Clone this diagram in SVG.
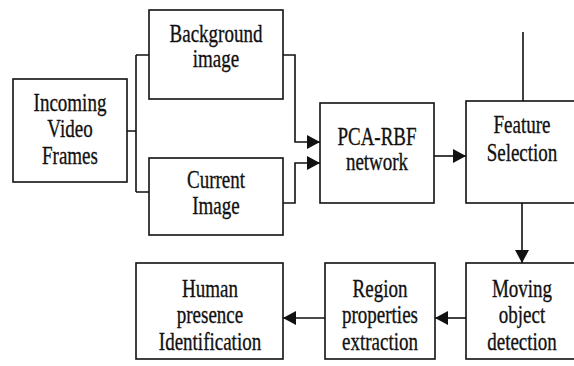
<svg xmlns="http://www.w3.org/2000/svg" width="574" height="366" viewBox="0 0 574 366">
<defs>
<style>
.box{fill:#fff;stroke:#111;stroke-width:1.6}
.ln{fill:none;stroke:#111;stroke-width:1.6}
.t{font-family:"Liberation Serif","Times New Roman",serif;font-size:19px;fill:#111;stroke:#111;stroke-width:0.25;text-anchor:middle}
</style>
<marker id="ah" markerUnits="userSpaceOnUse" markerWidth="14" markerHeight="14" refX="13" refY="7" orient="auto" viewBox="0 0 14 14">
<path d="M0,0 L13,7 L0,14 z" fill="#111"/>
</marker>
</defs>
<rect width="574" height="366" fill="#fff"/>
<g id="connectors">
<path class="ln" d="M127,131 H136 M136,55 V192 M136,55 H149 M136,192 H149"/>
<path class="ln" d="M283,55 H295 V142 H320" marker-end="url(#ah)"/>
<path class="ln" d="M283,203 H295 V163 H320" marker-end="url(#ah)"/>
<path class="ln" d="M434,156 H466" marker-end="url(#ah)"/>
<path class="ln" d="M523,32 V101"/>
<path class="ln" d="M522,203 V263" marker-end="url(#ah)"/>
<path class="ln" d="M466,318 H435" marker-end="url(#ah)"/>
<path class="ln" d="M325,318 H283" marker-end="url(#ah)"/>
</g>
<g id="incoming">
<rect class="box" x="13" y="79" width="114" height="103"/>
<text class="t" transform="translate(70,111) scale(1,1.27)"><tspan x="0" y="0">Incoming</tspan><tspan x="0" y="20.5">Video</tspan><tspan x="0" y="41.5">Frames</tspan></text>
</g>
<g id="background">
<rect class="box" x="149" y="10" width="134" height="89"/>
<text class="t" transform="translate(216,42) scale(1,1.27)"><tspan x="0" y="0">Background</tspan><tspan x="0" y="19.5">image</tspan></text>
</g>
<g id="current">
<rect class="box" x="149" y="158" width="134" height="77"/>
<text class="t" transform="translate(216,188) scale(1,1.27)"><tspan x="0" y="0">Current</tspan><tspan x="0" y="20.5">Image</tspan></text>
</g>
<g id="pca">
<rect class="box" x="320" y="103" width="114" height="100"/>
<text class="t" transform="translate(377,145) scale(1,1.27)"><tspan x="0" y="0">PCA-RBF</tspan><tspan x="0" y="19.7">network</tspan></text>
</g>
<g id="feature">
<rect class="box" x="466" y="101" width="114" height="102"/>
<text class="t" transform="translate(522,133) scale(1,1.27)"><tspan x="0" y="0">Feature</tspan><tspan x="0" y="22">Selection</tspan></text>
</g>
<g id="moving">
<rect class="box" x="466" y="263" width="114" height="96"/>
<text class="t" transform="translate(522,297) scale(1,1.27)"><tspan x="0" y="0">Moving</tspan><tspan x="0" y="20.5">object</tspan><tspan x="0" y="41.5">detection</tspan></text>
</g>
<g id="region">
<rect class="box" x="325" y="263" width="110" height="96"/>
<text class="t" transform="translate(380,297) scale(1,1.27)"><tspan x="0" y="0">Region</tspan><tspan x="0" y="20.5">properties</tspan><tspan x="0" y="41.5">extraction</tspan></text>
</g>
<g id="human">
<rect class="box" x="136" y="263" width="147" height="96"/>
<text class="t" transform="translate(210,297) scale(1,1.27)"><tspan x="0" y="0">Human</tspan><tspan x="0" y="20.5">presence</tspan><tspan x="0" y="41.5">Identification</tspan></text>
</g>
</svg>
